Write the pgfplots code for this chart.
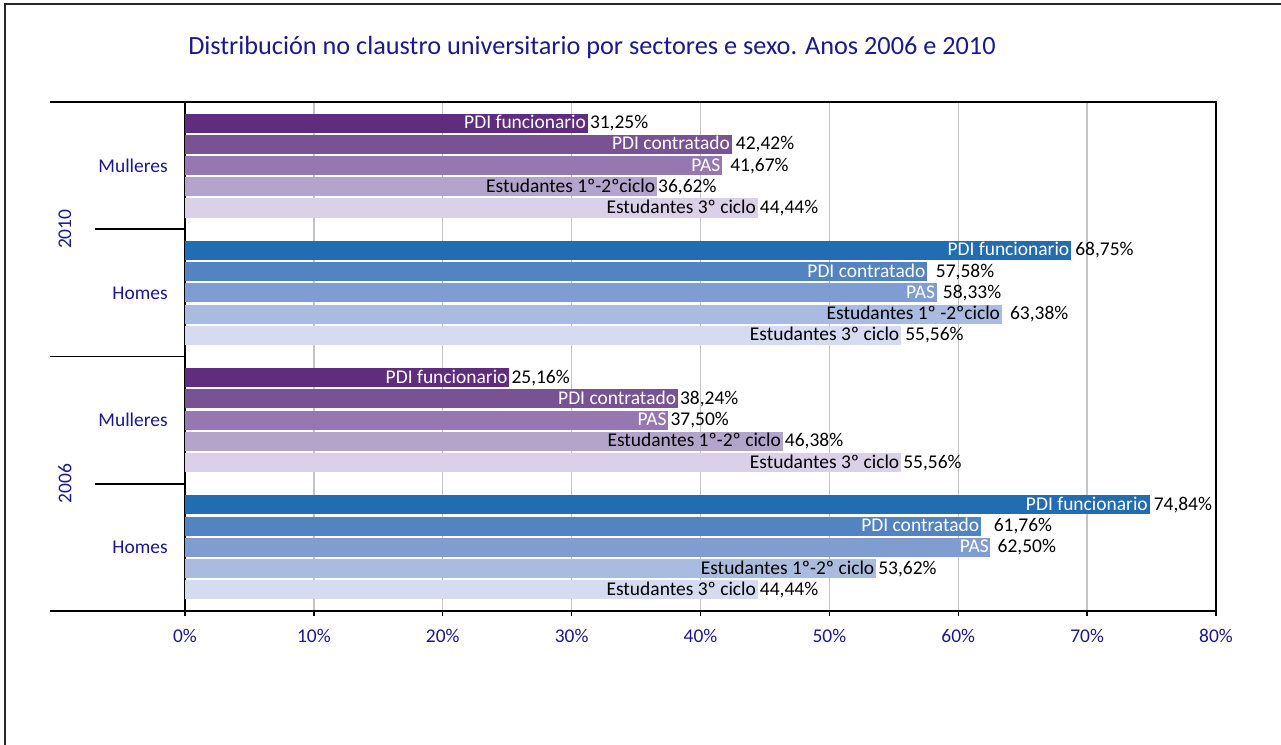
\documentclass[border=0pt]{standalone}
\usepackage{fontspec}
\setmainfont{Carlito}
\usepackage{pgfplots}
\pgfplotsset{compat=1.18}
\definecolor{navy}{RGB}{26,26,140}
\definecolor{gridc}{RGB}{196,196,196}
\definecolor{M1}{RGB}{96,44,126}
\definecolor{M2}{RGB}{121,82,148}
\definecolor{M3}{RGB}{150,119,175}
\definecolor{M4}{RGB}{180,164,203}
\definecolor{M5}{RGB}{218,209,232}
\definecolor{H1}{RGB}{34,108,177}
\definecolor{H2}{RGB}{83,132,193}
\definecolor{H3}{RGB}{128,157,210}
\definecolor{H4}{RGB}{170,187,224}
\definecolor{H5}{RGB}{213,219,240}
\newcommand\lab{\fontsize{14.6}{16}\selectfont}
% value, y position, fill colour, name colour, name, extra gap before value
\newcommand\mybar[6]{\addplot[fill=#3, draw=none,
  nodes near coords={\llap{\textcolor{#4}{#5}\hspace{3pt}}\hspace{#6}\pgfmathprintnumber{\pgfplotspointmeta}\%}]
  coordinates {(#1,#2)};}
\begin{document}
\begin{tikzpicture}
\useasboundingbox (-138.75pt,-100.5pt) rectangle (822pt,458.25pt);
\begin{axis}[
  scale only axis, width=773.25pt, height=381.75pt,
  xbar, bar shift=0pt, bar width=0.9,
  xmin=0, xmax=80, ymin=0, ymax=24,
  clip=false,
  point meta=x,
  axis line style={line width=1.2pt, black},
  xtick={0,10,...,80},
  xticklabels={0\%,10\%,20\%,30\%,40\%,50\%,60\%,70\%,80\%},
  ytick=\empty,
  xtick pos=bottom, tick align=outside, major tick length=4pt,
  xtick style={line width=1pt, black},
  xmajorgrids, major grid style={gridc, line width=1.1pt},
  typeset ticklabels with strut,
  xticklabel style={text=navy, font=\lab, yshift=-5pt},
  every node near coord/.append style={anchor=west, inner xsep=1.5pt, text=black, font=\lab},
  /pgf/number format/use comma, /pgf/number format/fixed,
  /pgf/number format/fixed zerofill, /pgf/number format/precision=2,
  /pgf/number format/assume math mode=true,
]
% 2010 Mulleres
\mybar{31.25}{23}{M1}{white}{PDI funcionario}{0pt}
\mybar{42.42}{22}{M2}{white}{PDI contratado}{1.5pt}
\mybar{41.67}{21}{M3}{white}{PAS}{4.5pt}
\mybar{36.62}{20}{M4}{black}{Estudantes 1º-2ºciclo}{-0.75pt}
\mybar{44.44}{19}{M5}{black}{Estudantes 3º ciclo}{0pt}
% 2010 Homes
\mybar{68.75}{17}{H1}{white}{PDI funcionario}{1.5pt}
\mybar{57.58}{16}{H2}{white}{PDI contratado}{5pt}
\mybar{58.33}{15}{H3}{white}{PAS}{3pt}
\mybar{63.38}{14}{H4}{black}{Estudantes 1º -2ºciclo}{4.5pt}
\mybar{55.56}{13}{H5}{black}{Estudantes 3º ciclo}{1.5pt}
% 2006 Mulleres
\mybar{25.16}{11}{M1}{white}{PDI funcionario}{0pt}
\mybar{38.24}{10}{M2}{white}{PDI contratado}{0pt}
\mybar{37.50}{9}{M3}{white}{PAS}{0pt}
\mybar{46.38}{8}{M4}{black}{Estudantes 1º-2º ciclo}{0pt}
\mybar{55.56}{7}{M5}{black}{Estudantes 3º ciclo}{0pt}
% 2006 Homes
\mybar{74.84}{5}{H1}{white}{PDI funcionario}{1.5pt}
\mybar{61.76}{4}{H2}{white}{PDI contratado}{8pt}
\mybar{62.50}{3}{H3}{white}{PAS}{3.75pt}
\mybar{53.62}{2}{H4}{black}{Estudantes 1º-2º ciclo}{0pt}
\mybar{44.44}{1}{H5}{black}{Estudantes 3º ciclo}{0pt}
% category separators
\draw[line width=1.2pt] (axis cs:0,24) -- ++(-101.25pt,0);
\draw[line width=1.2pt] (axis cs:0,12) -- ++(-101.25pt,0);
\draw[line width=1.2pt] (axis cs:0,0) -- ++(-101.25pt,0);
\draw[line width=1.2pt] (axis cs:0,18) -- ++(-67.5pt,0);
\draw[line width=1.2pt] (axis cs:0,6) -- ++(-67.5pt,0);
% group labels
\node[anchor=east, text=navy, font=\lab, inner sep=0pt] at ([xshift=-12.75pt]axis cs:0,21) {Mulleres};
\node[anchor=east, text=navy, font=\lab, inner sep=0pt] at ([xshift=-12.75pt]axis cs:0,15) {Homes};
\node[anchor=east, text=navy, font=\lab, inner sep=0pt] at ([xshift=-12.75pt]axis cs:0,9) {Mulleres};
\node[anchor=east, text=navy, font=\lab, inner sep=0pt] at ([xshift=-12.75pt]axis cs:0,3) {Homes};
\node[rotate=90, text=navy, font=\lab, inner sep=0pt] at ([xshift=-90pt]axis cs:0,18) {2010};
\node[rotate=90, text=navy, font=\lab, inner sep=0pt] at ([xshift=-90pt]axis cs:0,6) {2006};
\end{axis}
\draw[line width=1.5pt, black!85] (-135pt,-110pt) -- (-135pt,455.25pt) -- (830pt,455.25pt);
\node[text=navy, font=\fontsize{19.7}{22}\selectfont, inner sep=0pt] at (305.25pt,422.25pt) {Distribución no claustro universitario por sectores e sexo. Anos 2006 e 2010};
\end{tikzpicture}
\end{document}
